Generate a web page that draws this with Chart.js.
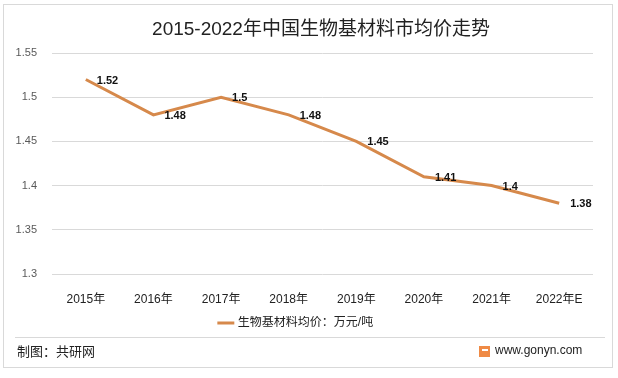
<!DOCTYPE html>
<html>
<head>
<meta charset="utf-8">
<script src="https://cdn.jsdelivr.net/npm/chart.js@4"></script>
<style>
  html, body { margin: 0; padding: 0; background: #fff; }
  #wrap { width: 618px; height: 378px; position: relative; }
</style>
</head>
<body>
<div id="wrap"><canvas id="priceChart" width="618" height="378"></canvas></div>
<script>
// data
const years = ['2015年', '2016年', '2017年', '2018年', '2019年', '2020年', '2021年', '2022年E'];
const avgPrice = [1.52, 1.48, 1.5, 1.48, 1.45, 1.41, 1.4, 1.38];
const seriesName = '生物基材料均价：万元/吨';
const yTicks = [1.3, 1.35, 1.4, 1.45, 1.5, 1.55];

const lineColor = '#D6894B';
const cjk = "'Liberation Sans', 'Noto Sans CJK SC', sans-serif";

// frame, title, footer and point labels
const decorPlugin = {
    id: 'decor',
    beforeDraw(chart) {
        const ctx = chart.ctx;
        ctx.save();
        ctx.fillStyle = '#fff';
        ctx.fillRect(0, 0, chart.width, chart.height);
        ctx.strokeStyle = '#d9d9d9';
        ctx.lineWidth = 1;
        ctx.strokeRect(3.5, 4.5, 609, 363);
        ctx.beginPath();
        ctx.moveTo(15, 337.5);
        ctx.lineTo(605, 337.5);
        ctx.stroke();
        ctx.restore();
    },
    afterDraw(chart) {
        const ctx = chart.ctx;
        ctx.save();
        // title
        ctx.fillStyle = '#222';
        ctx.font = "19px " + cjk;
        ctx.textAlign = 'center';
        ctx.textBaseline = 'middle';
        ctx.fillText('2015-2022年中国生物基材料市均价走势', 321, 30);
        // point labels
        const meta = chart.getDatasetMeta(0);
        ctx.font = "bold 11px " + cjk;
        ctx.fillStyle = '#111';
        ctx.textAlign = 'left';
        meta.data.forEach((pt, i) => {
            ctx.fillText(String(avgPrice[i]), pt.x + 11, pt.y + 1);
        });
        // footer
        ctx.font = "13px " + cjk;
        ctx.fillStyle = '#222';
        ctx.fillText('制图：共研网', 17, 352);
        ctx.fillStyle = '#ef8a45';
        ctx.fillRect(479, 346, 11, 11);
        ctx.fillStyle = '#fff';
        ctx.fillRect(482, 349, 6, 2);
        ctx.fillStyle = '#222';
        ctx.font = "12px " + cjk;
        ctx.fillText('www.gonyn.com', 495, 351);
        ctx.restore();
    }
};

new Chart(document.getElementById('priceChart'), {
    type: 'line',
    data: {
        labels: years,
        datasets: [{
            label: seriesName,
            data: avgPrice,
            borderColor: lineColor,
            backgroundColor: lineColor,
            borderWidth: 3,
            pointRadius: 0,
            tension: 0
        }]
    },
    options: {
        responsive: false,
        animation: false,
        layout: { padding: { top: 53, left: 0, right: 25, bottom: 39 } },
        scales: {
            x: {
                offset: true,
                grid: { display: false },
                border: { display: false },
                ticks: { color: '#222', font: { size: 12, family: cjk }, padding: 10, maxRotation: 0 },
                afterFit(scale) { scale.height = 42; }
            },
            y: {
                min: 1.3,
                max: 1.55,
                afterBuildTicks(scale) { scale.ticks = yTicks.map(v => ({ value: v })); },
                grid: { color: '#d9d9d9', drawTicks: false },
                border: { display: false },
                ticks: {
                    color: '#595959',
                    font: { size: 11, family: cjk },
                    padding: 15,
                    callback: v => String(Math.round(v * 100) / 100)
                },
                afterFit(scale) { scale.width = 52; }
            }
        },
        plugins: {
            legend: {
                position: 'bottom',
                labels: {
                    usePointStyle: true,
                    pointStyle: 'line',
                    boxWidth: 26,
                    color: '#222',
                    font: { size: 12, family: cjk },
                    padding: 1
                }
            },
            tooltip: { enabled: false }
        }
    },
    plugins: [decorPlugin]
});
</script>
</body>
</html>
